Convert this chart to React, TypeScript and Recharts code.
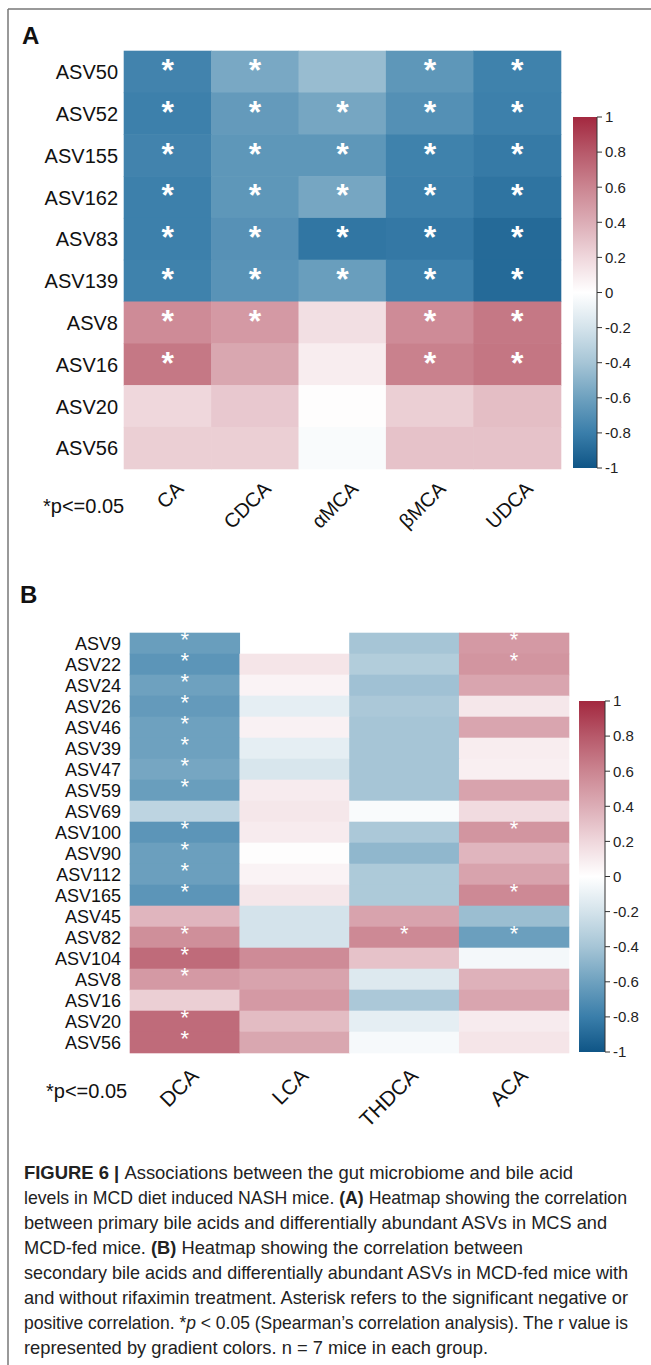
import React from 'react';
import { ScatterChart, Scatter, XAxis, YAxis, BarChart, Bar } from 'recharts';

const FONT = '"Liberation Sans", Arial, sans-serif';

// panel A: primary bile acids
const rowsA = ['ASV50', 'ASV52', 'ASV155', 'ASV162', 'ASV83', 'ASV139', 'ASV8', 'ASV16', 'ASV20', 'ASV56'];
const colsA = ['CA', 'CDCA', 'αMCA', 'βMCA', 'UDCA'];
const rA = [
  [-0.77, -0.56, -0.45, -0.66, -0.78],
  [-0.79, -0.64, -0.57, -0.7, -0.79],
  [-0.77, -0.66, -0.66, -0.78, -0.82],
  [-0.79, -0.66, -0.57, -0.79, -0.85],
  [-0.79, -0.69, -0.84, -0.83, -0.9],
  [-0.78, -0.68, -0.62, -0.79, -0.9],
  [0.57, 0.5, 0.16, 0.57, 0.66],
  [0.66, 0.43, 0.09, 0.62, 0.67],
  [0.2, 0.27, 0.01, 0.24, 0.32],
  [0.24, 0.24, -0.03, 0.3, 0.3],
];
const sigA = [
  [1, 1, 0, 1, 1],
  [1, 1, 1, 1, 1],
  [1, 1, 1, 1, 1],
  [1, 1, 1, 1, 1],
  [1, 1, 1, 1, 1],
  [1, 1, 1, 1, 1],
  [1, 1, 0, 1, 1],
  [1, 0, 0, 1, 1],
  [0, 0, 0, 0, 0],
  [0, 0, 0, 0, 0],
];

// panel B: secondary bile acids (null = no value)
const rowsB = ['ASV9', 'ASV22', 'ASV24', 'ASV26', 'ASV46', 'ASV39', 'ASV47', 'ASV59', 'ASV69', 'ASV100',
  'ASV90', 'ASV112', 'ASV165', 'ASV45', 'ASV82', 'ASV104', 'ASV8', 'ASV16', 'ASV20', 'ASV56'];
const colsB = ['DCA', 'LCA', 'THDCA', 'ACA'];
const rB = [
  [-0.62, null, -0.4, 0.5],
  [-0.67, 0.13, -0.35, 0.52],
  [-0.6, 0.06, -0.42, 0.44],
  [-0.64, -0.12, -0.38, 0.12],
  [-0.6, 0.07, -0.4, 0.44],
  [-0.6, -0.12, -0.4, 0.09],
  [-0.57, -0.18, -0.4, 0.08],
  [-0.62, 0.1, -0.4, 0.45],
  [-0.3, 0.12, -0.03, 0.18],
  [-0.67, 0.1, -0.38, 0.52],
  [-0.61, 0.01, -0.48, 0.36],
  [-0.61, 0.06, -0.37, 0.45],
  [-0.67, 0.12, -0.37, 0.58],
  [0.36, -0.2, 0.45, -0.44],
  [0.55, -0.2, 0.58, -0.61],
  [0.72, 0.57, 0.3, -0.05],
  [0.5, 0.45, -0.16, 0.38],
  [0.24, 0.5, -0.38, 0.44],
  [0.72, 0.33, -0.12, 0.1],
  [0.72, 0.43, -0.04, 0.13],
];
const sigB = [
  [1, 0, 0, 1], [1, 0, 0, 1], [1, 0, 0, 0], [1, 0, 0, 0], [1, 0, 0, 0],
  [1, 0, 0, 0], [1, 0, 0, 0], [1, 0, 0, 0], [0, 0, 0, 0], [1, 0, 0, 1],
  [1, 0, 0, 0], [1, 0, 0, 0], [1, 0, 0, 1], [0, 0, 0, 0], [1, 0, 1, 1],
  [1, 0, 0, 0], [1, 0, 0, 0], [0, 0, 0, 0], [1, 0, 0, 0], [1, 0, 0, 0],
];

const colorbarTicks = [1, 0.8, 0.6, 0.4, 0.2, 0, -0.2, -0.4, -0.6, -0.8, -1];

// colour scale
const scaleStops = [-1, -0.8, -0.6, -0.4, -0.2, 0, 0.2, 0.4, 0.6, 0.8, 1];
const scaleColors = ['#0f5586', '#3a7eaa', '#6ea1bf', '#a6c5d6', '#d4e3eb', '#ffffff',
  '#efd7dc', '#dcadb6', '#cb8591', '#b7596a', '#a3283f'];

const captionLines = [
  [['b', 'FIGURE 6 | '], ['', 'Associations between the gut microbiome and bile acid']],
  [['', 'levels in MCD diet induced NASH mice. '], ['b', '(A)'], ['', ' Heatmap showing the correlation']],
  [['', 'between primary bile acids and differentially abundant ASVs in MCS and']],
  [['', 'MCD-fed mice. '], ['b', '(B)'], ['', ' Heatmap showing the correlation between']],
  [['', 'secondary bile acids and differentially abundant ASVs in MCD-fed mice with']],
  [['', 'and without rifaximin treatment. Asterisk refers to the significant negative or']],
  [['', 'positive correlation. *'], ['i', 'p'], ['', ' < 0.05 (Spearman\u2019s correlation analysis). The r value is']],
  [['', 'represented by gradient colors. n = 7 mice in each group.']],
];
const captionWidths = [549, 603, 583, 499, 604, 604, 604, 464];

const hex = (c: string) => [1, 3, 5].map((i) => parseInt(c.slice(i, i + 2), 16));

function colorFor(r: number) {
  let i = 0;
  while (i < scaleStops.length - 2 && r > scaleStops[i + 1]) i++;
  const t = Math.max(0, Math.min(1, (r - scaleStops[i]) / (scaleStops[i + 1] - scaleStops[i])));
  const a = hex(scaleColors[i]);
  const b = hex(scaleColors[i + 1]);
  const m = a.map((v, k) => Math.round(v + (b[k] - v) * t));
  return `rgb(${m[0]},${m[1]},${m[2]})`;
}

function Heatmap({ rows, cols, values, sig, top, plot, rowFont, rowGap, colFont, colDx, colDy, starFont, starLift, starBold }) {
  const W = 651;
  const H = 560;
  const yw = 60;
  const xh = 60;
  const plotW = plot.right - plot.left;
  const plotH = plot.bottom - plot.top;
  const cw = plotW / cols.length;
  const ch = plotH / rows.length;
  const points = rows.flatMap((row, i) =>
    cols.map((col, j) => ({ x: j, y: i, r: values[i][j], sig: sig[i][j] }))
  ).filter((p) => p.r !== null);

  const cell = (p: any) => {
    const { cx, cy, payload } = p;
    return (
      <g>
        <rect x={cx - cw / 2 - 0.3} y={cy - ch / 2 - 0.3} width={cw + 0.6} height={ch + 0.6} fill={colorFor(payload.r)} />
        {payload.sig ? (
          <text x={cx} y={cy + starLift} textAnchor="middle" fontSize={starFont} fontWeight={starBold ? 'bold' : 'normal'}
            fill="#ffffff" fontFamily={FONT}>*</text>
        ) : null}
      </g>
    );
  };

  return (
    <div style={{ position: 'absolute', left: 0, top, width: W, height: H }}>
      <ScatterChart width={W} height={H}
        margin={{ top: plot.top, right: W - plot.right, bottom: H - plot.bottom - xh, left: plot.left - yw }}>
        <XAxis type="number" dataKey="x" domain={[-0.5, cols.length - 0.5]} ticks={cols.map((_, i) => i)}
          interval={0} height={xh} axisLine={false} tickLine={false}
          tick={(t: any) => {
            const tx = t.x + colDx;
            const ty = t.y + colDy;
            return (
              <text x={tx} y={ty} transform={`rotate(-45 ${tx} ${ty})`} textAnchor="end" fontSize={colFont}
                fill="#111" fontFamily={FONT}>{cols[t.payload.value]}</text>
            );
          }} />
        <YAxis type="number" dataKey="y" domain={[-0.5, rows.length - 0.5]} reversed ticks={rows.map((_, i) => i)}
          interval={0} width={yw} axisLine={false} tickLine={false} tickMargin={rowGap}
          tick={(t: any) => (
            <text x={t.x} y={t.y} dy={rowFont * 0.36} textAnchor="end" fontSize={rowFont} fill="#111"
              fontFamily={FONT}>{rows[t.payload.value]}</text>
          )} />
        <Scatter data={points} shape={cell} isAnimationActive={false} />
      </ScatterChart>
    </div>
  );
}

function ColorBar({ id, left, top, width, height }) {
  const pad = 10;
  // gradient stops must go top (r = 1) to bottom (r = -1)
  const order = scaleStops.map((s, i) => i).reverse();
  return (
    <div style={{ position: 'absolute', left, top: top - pad, width: width + 50, height: height + 2 * pad }}>
      <BarChart width={width + 50} height={height + 2 * pad} data={[{ k: 'r', v: [-1, 1] }]}
        margin={{ top: pad, bottom: pad, left: 0, right: 0 }} barCategoryGap={0}>
        <defs>
          <linearGradient id={id} x1="0" y1="0" x2="0" y2="1">
            {order.map((i) => (
              <stop key={i} offset={(1 - scaleStops[i]) / 2} stopColor={scaleColors[i]} />
            ))}
          </linearGradient>
        </defs>
        <XAxis dataKey="k" hide />
        <YAxis orientation="right" type="number" domain={[-1, 1]} ticks={colorbarTicks} interval={0} width={50}
          tickSize={5} tickMargin={3} axisLine={{ stroke: '#333' }} tickLine={{ stroke: '#333' }}
          tickFormatter={(v: number) => String(Math.round(v * 10) / 10)}
          tick={{ fontSize: 15, fill: '#222', fontFamily: FONT }} />
        <Bar dataKey="v" fill={`url(#${id})`} isAnimationActive={false} />
      </BarChart>
    </div>
  );
}

export default function App() {
  return (
    <div style={{ position: 'relative', width: 651, height: 1365, background: '#fff', overflow: 'hidden' }}>
      <style>{'body{margin:0}'}</style>
      <svg width={651} height={1365} style={{ position: 'absolute', left: 0, top: 0 }}>
        <line x1={8} y1={9} x2={651} y2={9} stroke="#777" strokeWidth={1.5} />
        <line x1={8} y1={9} x2={8} y2={1365} stroke="#777" strokeWidth={1.5} />
        <text x={22} y={44} fontSize={24} fontWeight="bold" fontFamily={FONT} fill="#111">A</text>
        <text x={20} y={603} fontSize={24} fontWeight="bold" fontFamily={FONT} fill="#111">B</text>
        <text x={43} y={513} fontSize={20} fontFamily={FONT} fill="#111">*p&lt;=0.05</text>
        <text x={46} y={1098} fontSize={20} fontFamily={FONT} fill="#111">*p&lt;=0.05</text>
        {captionLines.map((line, i) => (
          <text key={i} x={24} y={1179 + i * 25} fontSize={18.5} fontFamily={FONT} fill="#222"
            textLength={captionWidths[i]} lengthAdjust="spacingAndGlyphs">
            {line.map((seg, k) => (
              <tspan key={k} fontWeight={seg[0] === 'b' ? 'bold' : 'normal'} fontStyle={seg[0] === 'i' ? 'italic' : 'normal'}>
                {seg[1]}
              </tspan>
            ))}
          </text>
        ))}
      </svg>
      <Heatmap rows={rowsA} cols={colsA} values={rA} sig={sigA} top={0}
        plot={{ left: 124, right: 561, top: 51, bottom: 469 }} rowFont={20} rowGap={0} colFont={20}
        colDx={17} colDy={13} starFont={32} starLift={9} starBold />
      <ColorBar id="cbA" left={573} top={117} width={24} height={351} />
      <Heatmap rows={rowsB} cols={colsB} values={rB} sig={sigB} top={580}
        plot={{ left: 130, right: 569, top: 53, bottom: 473 }} rowFont={18} rowGap={3} colFont={21}
        colDx={15} colDy={16} starFont={22} starLift={3} starBold={false} />
      <ColorBar id="cbB" left={579} top={701} width={26} height={351} />
    </div>
  );
}
